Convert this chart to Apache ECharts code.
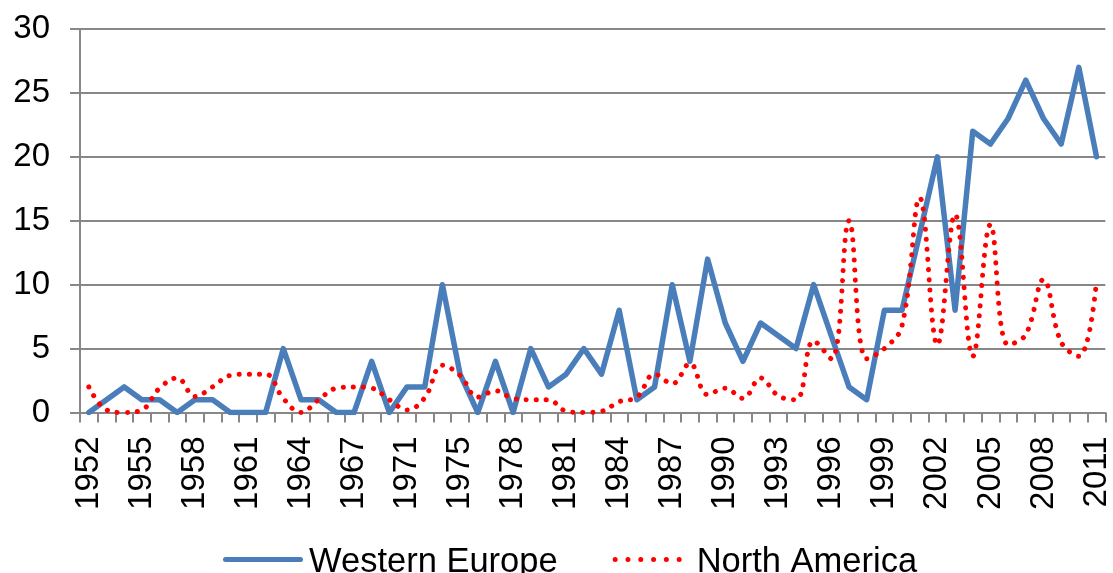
<!DOCTYPE html>
<html>
<head>
<meta charset="utf-8">
<script src="https://cdn.jsdelivr.net/npm/echarts@6/dist/echarts.min.js"></script>
<style>
html,body{margin:0;padding:0;background:#fff;}
#chart{width:1113px;height:573px;}
</style>
</head>
<body>
<div id="chart"></div>
<script>
var years = ['1952','1953','1954','1955','1956','1957','1958','1959','1960','1961','1962','1963','1964','1965','1966','1967','1968','1969',
  '1971','1973','1974','1975','1976','1977','1978','1979','1980','1981','1982','1983','1984','1985','1986','1987','1988','1989','1990',
  '1991','1992','1993','1994','1995','1996','1997','1998','1999','2000','2001','2002','2003','2004','2005','2006','2007','2008','2009','2010','2011'];
var westernEurope = [0,1,2,1,1,0,1,1,0,0,0,5,1,1,0,0,4,0,
  2,2,10,3,0,4,0,5,2,3,5,3,8,1,2,10,4,12,7,
  4,7,6,5,10,6,2,1,8,8,14,20,8,22,21,23,26,23,21,27,20];
var northAmerica = [2.0,0.2,0,0.2,1.9,2.7,1.25,2.0,2.9,3.0,3.0,1.1,0,1.0,1.9,2.0,1.9,1.0,
  0.2,1.15,3.7,2.9,1.2,1.7,1.1,1.0,1.0,0.1,0,0.1,0.85,1.2,3.0,2.25,3.85,1.4,1.9,
  1.1,2.7,1.3,1.0,5.6,4.2,15,4.2,5.0,6.8,16.8,5.3,15.5,4.4,14.7,5.3,6.1,10.4,5.5,4.4,10.3];
var seriesNames = ['Western Europe','North America'];

var FONT = '"Liberation Sans", Arial, sans-serif';
var GRAY = '#878787';

// legend icons (shape in top 5 units of an 80x11 box, so it sits a little above text centre)
var blueIcon = 'path://M0,0M2.5,0H77.5A2.5,2.5 0 0,1 77.5,5H2.5A2.5,2.5 0 0,1 2.5,0ZM80,11';
var dots = '';
for (var k = 0; k < 6; k++) {
  var cx = 4.5 + 12.8 * k;
  dots += 'M' + (cx - 2.5) + ',2.5a2.5,2.5 0 1,0 5,0a2.5,2.5 0 1,0 -5,0Z';
}
var redIcon = 'path://M0,0' + dots + 'M80,11';

var chart = echarts.init(document.getElementById('chart'), null, {renderer:'canvas'});
chart.setOption({
  animation: false,
  backgroundColor: '#ffffff',
  grid: {left: 80, right: 7.5, top: 29, bottom: 160.5, containLabel: false},
  legend: {
    data: [
      {name: seriesNames[0], icon: blueIcon, itemStyle: {color: '#4a7ebb', opacity: 1}},
      {name: seriesNames[1], icon: redIcon, itemStyle: {color: '#ff0000', opacity: 1}}
    ],
    left: 223, top: 545, padding: 0,
    itemWidth: 80, itemHeight: 11, itemGap: 53,
    textStyle: {fontFamily: FONT, fontSize: 34.5, color: '#000', padding: [0,0,0,1]}
  },
  xAxis: {
    type: 'category',
    data: years,
    boundaryGap: true,
    axisLine: {show: true, lineStyle: {color: GRAY, width: 2}},
    axisTick: {show: true, interval: 0, length: 10, lineStyle: {color: GRAY, width: 2}},
    axisLabel: {interval: 2, rotate: 90, fontFamily: FONT, fontSize: 33, color: '#000', margin: 24},
    splitLine: {show: false}
  },
  yAxis: {
    type: 'value',
    min: 0, max: 30, interval: 5,
    axisLine: {show: true, lineStyle: {color: GRAY, width: 2}},
    axisTick: {show: true, length: 10, lineStyle: {color: GRAY, width: 2}},
    axisLabel: {fontFamily: FONT, fontSize: 33, color: '#000', margin: 30},
    splitLine: {show: true, lineStyle: {color: GRAY, width: 2}}
  },
  series: [
    {
      name: seriesNames[0], type: 'line', data: westernEurope,
      symbol: 'none', smooth: false,
      lineStyle: {color: '#4a7ebb', width: 5.5, join: 'round', cap: 'round'},
      itemStyle: {color: '#4a7ebb'}
    },
    {
      name: seriesNames[1], type: 'line', data: northAmerica,
      symbol: 'none', smooth: 0.4,
      lineStyle: {color: '#ff0000', width: 5, type: [0.1, 10], cap: 'round'},
      itemStyle: {color: '#ff0000'}
    }
  ]
});
</script>
</body>
</html>
